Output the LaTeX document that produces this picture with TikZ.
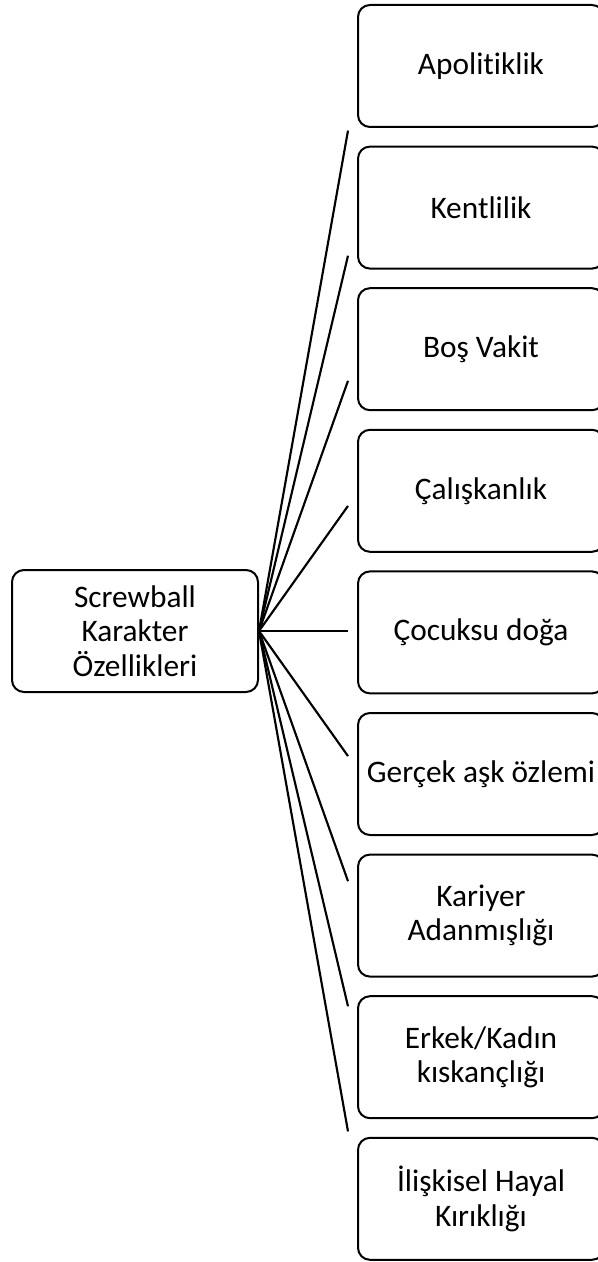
\documentclass[tikz,border=0pt]{standalone}
\usepackage{fontspec}
\setmainfont{Carlito}[Ligatures={NoCommon}]
\usetikzlibrary{positioning}
\tikzset{box/.style = {draw, line width=1.5pt, rounded corners=9pt,
                       minimum width=184.5pt, minimum height=91.5pt,
                       align=center, font=\fontsize{23.5pt}{25.8pt}\selectfont}}
\tikzset{link/.style = {line width=1.6pt}}

\begin{document}
\begin{tikzpicture}[x=0.75pt, y=-0.75pt]
	\useasboundingbox (0,0) rectangle (598,1262);
	\node [box] (root) at (135,631) {Screwball\\Karakter\\Özellikleri};
	\foreach \i/\txt in {1/Apolitiklik, 2/Kentlilik, 3/Boş Vakit, 4/Çalışkanlık,
	                     5/Çocuksu doğa, 6/Gerçek aşk özlemi, 7/Kariyer\\Adanmışlığı,
	                     8/{Erkek/Kadın\\kıskançlığı}, 9/İlişkisel Hayal\\Kırıklığı} {
		\node [box] (k\i) at (481,{66+141.6*(\i-1)}) {\txt};
		\coordinate (e\i) at (348,{631+125.1*(\i-5)});
		\draw [link] (root.east) -- (e\i);
	}
\end{tikzpicture}
\end{document}
